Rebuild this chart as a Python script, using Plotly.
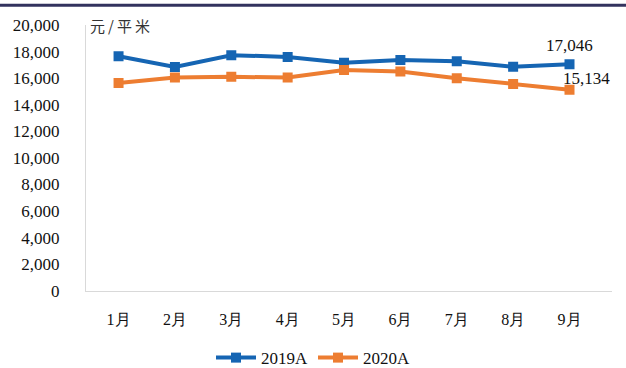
import plotly.graph_objects as go

months = ["1月", "2月", "3月", "4月", "5月", "6月", "7月", "8月", "9月"]
price_2019 = [17650, 16840, 17730, 17600, 17160, 17360, 17280, 16860, 17046]
price_2020 = [15630, 16050, 16100, 16050, 16610, 16500, 16000, 15560, 15134]
y_ticks = [0, 2000, 4000, 6000, 8000, 10000, 12000, 14000, 16000, 18000, 20000]

BLUE = "#1565b3"
ORANGE = "#ed7d31"
FONT = "Liberation Serif"

fig = go.Figure()
fig.add_trace(go.Scatter(
    x=months, y=price_2019, name="2019A", mode="lines+markers",
    line=dict(color=BLUE, width=4),
    marker=dict(symbol="square", size=10, color=BLUE),
))
fig.add_trace(go.Scatter(
    x=months, y=price_2020, name="2020A", mode="lines+markers",
    line=dict(color=ORANGE, width=4),
    marker=dict(symbol="square", size=10, color=ORANGE),
))

# value labels on the last month
fig.add_annotation(x=months[-1], y=price_2019[-1], text=f"{price_2019[-1]:,}",
                   showarrow=False, yshift=19, xshift=0,
                   font=dict(family=FONT, size=17, color="#111"))
fig.add_annotation(x=months[-1], y=price_2020[-1], text=f"{price_2020[-1]:,}",
                   showarrow=False, yshift=11, xshift=17,
                   font=dict(family=FONT, size=17, color="#111"))

# unit label
fig.add_annotation(xref="paper", yref="paper", x=0.003, y=1.0, xanchor="left",
                   yanchor="middle", text="元\u2009/\u2009平\u2009米", showarrow=False,
                   font=dict(family="Noto Sans CJK SC", size=15, color="#333"))

# dark rule across the top
fig.add_shape(type="line", xref="paper", yref="paper",
              x0=-0.2, x1=1.1, y0=1.074, y1=1.074,
              line=dict(color="#33335e", width=3))

fig.update_layout(
    width=626, height=368,
    margin=dict(l=86, r=14, t=25, b=73),
    plot_bgcolor="white", paper_bgcolor="white",
    font=dict(family=FONT, size=16, color="#111"),
    showlegend=True,
    legend=dict(orientation="h", xref="container", yref="container",
                x=0.5, xanchor="center", y=0.027, yanchor="middle",
                font=dict(family=FONT, size=17), itemwidth=40,
                tracegroupgap=0),
    xaxis=dict(showgrid=False, showline=True, linecolor="#d9d9d9", linewidth=1,
               ticks="", ticklabelstandoff=14, zeroline=False,
               tickfont=dict(family=FONT, size=16)),
    yaxis=dict(range=[0, 20000], tickvals=y_ticks, tickformat=",d",
               showgrid=False, showline=True, linecolor="#d9d9d9", linewidth=1,
               ticks="", ticklabelstandoff=22, zeroline=False,
               tickfont=dict(family=FONT, size=17)),
)

fig.write_html("out.html")
